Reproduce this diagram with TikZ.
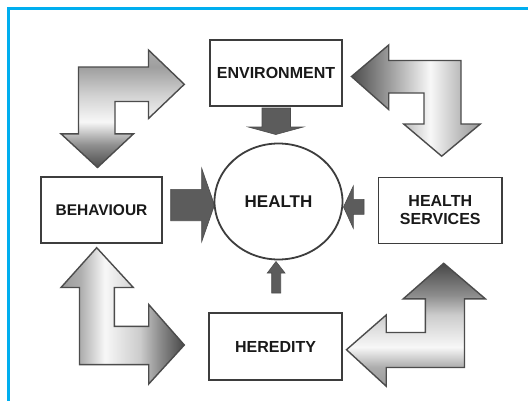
\documentclass[tikz,border=0pt]{standalone}
\usepackage{fontspec}
\setmainfont{Liberation Sans}
\usetikzlibrary{shapes.geometric}
\definecolor{frameblue}{RGB}{0,174,239}
\definecolor{edgegray}{gray}{0.24}
\definecolor{arrowedge}{gray}{0.30}
\definecolor{textc}{gray}{0.10}
\definecolor{smallfill}{gray}{0.36}
\definecolor{gA}{gray}{0.28}
\definecolor{gB}{gray}{0.30}
\definecolor{gC}{gray}{0.55}
\definecolor{gD}{gray}{0.56}
\definecolor{gE}{gray}{0.60}
\definecolor{gF}{gray}{0.62}
\definecolor{gG}{gray}{0.68}
\definecolor{gH}{gray}{0.72}
\definecolor{gI}{gray}{0.80}
\definecolor{gJ}{gray}{0.82}
\definecolor{gK}{gray}{0.97}
% top-left arrow: vertical gradient (0bp = bottom)
\pgfdeclareverticalshading{tlshade}{100bp}{color(0bp)=(gB); color(25bp)=(gB); color(34.6bp)=(gD); color(44.4bp)=(gK); color(55.9bp)=(gJ); color(67.8bp)=(gF); color(75bp)=(gG); color(100bp)=(gG)}
% top-right arrow: horizontal gradient (0bp = left)
\pgfdeclarehorizontalshading{trshade}{100bp}{color(0bp)=(gB); color(25bp)=(gB); color(39.9bp)=(gF); color(55.5bp)=(gK); color(67.9bp)=(gH); color(75bp)=(gE); color(100bp)=(gE)}
% bottom-left arrow: horizontal gradient
\pgfdeclarehorizontalshading{blshade}{100bp}{color(0bp)=(gE); color(25bp)=(gE); color(32.7bp)=(gG); color(42.8bp)=(gK); color(57bp)=(gI); color(65.1bp)=(gC); color(75bp)=(gA); color(100bp)=(gA)}
% bottom-right arrow: vertical gradient
\pgfdeclareverticalshading{brshade}{100bp}{color(0bp)=(gE); color(25bp)=(gE); color(32.8bp)=(gG); color(40.9bp)=(gK); color(54bp)=(gI); color(62.1bp)=(gC); color(75bp)=(gA); color(100bp)=(gA)}
\begin{document}
\begin{tikzpicture}[x=1pt,y=-1pt,
  box/.style={draw=edgegray, line width=1.8pt, fill=white, inner sep=0pt,
    font=\fontsize{16}{18}\selectfont\bfseries, text=textc, align=center},
  bigarrow/.style={draw=arrowedge, line width=1.4pt, line join=miter},
  smallarrow/.style={fill=smallfill, draw=gB, line width=0.6pt, line join=miter}]
\useasboundingbox (0,0) rectangle (528,400);
\fill[white] (0,0) rectangle (528,400);
\draw[frameblue, line width=3pt] (8.5,402) -- (8.5,8.3) -- (530,8.3);

% big bent double arrows
\shade[bigarrow, shading=tlshade] (78.5,67) -- (148.5,67) -- (148.5,50) -- (184.3,84.3) -- (148.5,118.5) -- (148.5,101.5) -- (115,101.5) -- (115,133.8) -- (133.5,133.8) -- (97.5,167.5) -- (61,133.8) -- (78.5,133.8) -- cycle;
\shade[bigarrow, shading=trshade] (461,60.5) -- (461,124) -- (480.3,124) -- (441.7,156.2) -- (403.7,124) -- (424,124) -- (424,93) -- (388.7,93) -- (388.7,109.5) -- (351.5,76.5) -- (388.7,45) -- (388.7,60.5) -- cycle;
\shade[bigarrow, shading=blshade] (79.5,364.6) -- (79.5,287.5) -- (61,287.5) -- (96.7,247.7) -- (133.3,287.5) -- (114.3,287.5) -- (114.3,326.3) -- (148.7,326.3) -- (148.7,304.5) -- (184.3,345) -- (148.7,384) -- (148.7,364.6) -- cycle;
\shade[bigarrow, shading=brshade] (464.5,367.5) -- (386.2,367.5) -- (386.2,386.2) -- (346.5,349.7) -- (386.2,315) -- (386.2,332.5) -- (425.3,332.5) -- (425.3,298.8) -- (403.3,298.8) -- (443.7,263.3) -- (485.3,298.8) -- (464.5,298.8) -- cycle;

% small block arrows towards HEALTH
\draw[smallarrow] (262,108) -- (290.5,108) -- (290.5,127) -- (303.3,127) -- (275.8,134.5) -- (248.3,127) -- (262,127) -- cycle;
\draw[smallarrow] (170.7,189.3) -- (201.7,189.3) -- (201.7,168.3) -- (214.5,205) -- (201.7,241.7) -- (201.7,220.7) -- (170.7,220.7) -- cycle;
\draw[smallarrow] (364,199.3) -- (353.3,199.3) -- (353.3,186) -- (343.5,207) -- (353.3,228.3) -- (353.3,214.3) -- (364,214.3) -- cycle;
\draw[smallarrow] (271.7,293) -- (271.7,273) -- (267.3,273) -- (276,261.5) -- (285,273) -- (280.7,273) -- (280.7,293) -- cycle;

% boxes
\node[box, minimum width=132pt, minimum height=66pt] (env) at (276,73) {ENVIRONMENT};
\node[box, minimum width=121pt, minimum height=66pt, font=\fontsize{15.5}{18}\selectfont\bfseries] (beh) at (101.5,210) {BEHAVIOUR};
\node[box, minimum width=133pt, minimum height=67pt] (her) at (275.5,346.5) {HEREDITY};
\node[box, minimum width=123.5pt, minimum height=66pt] (hs) at (440.3,210.5) {HEALTH\\SERVICES};

% centre
\node[ellipse, draw=edgegray, line width=1.8pt, fill=white, inner sep=0pt,
  minimum width=128pt, minimum height=116pt,
  font=\fontsize{17}{20}\selectfont\bfseries, text=textc] (health) at (278.5,201.5) {HEALTH};
\end{tikzpicture}
\end{document}
